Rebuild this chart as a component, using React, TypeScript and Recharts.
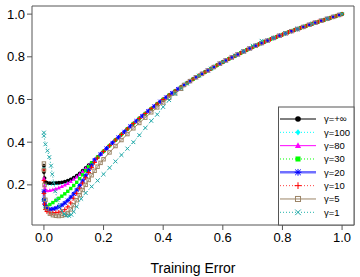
import React from 'react';
import { LineChart, Line, XAxis, YAxis, ReferenceArea } from 'recharts';

type Pt = [number, number];

const X_TICKS = [0, 0.2, 0.4, 0.6, 0.8, 1.0];
const Y_TICKS = [0.2, 0.4, 0.6, 0.8, 1.0];

// shared upper part of the curves (two interleaved samplings)
const TAIL_A: Pt[] = [
    [0.16, 0.303], [0.18, 0.33], [0.2, 0.357], [0.22, 0.384], [0.24, 0.41], [0.26, 0.436],
    [0.28, 0.462], [0.3, 0.487], [0.32, 0.511], [0.34, 0.534], [0.36, 0.557], [0.38, 0.579],
    [0.4, 0.6], [0.42, 0.62], [0.44, 0.639], [0.46, 0.658], [0.48, 0.677], [0.5, 0.695],
    [0.52, 0.712], [0.54, 0.728], [0.56, 0.744], [0.58, 0.76], [0.6, 0.775], [0.62, 0.79],
    [0.64, 0.804], [0.66, 0.818], [0.68, 0.832], [0.7, 0.845], [0.72, 0.858], [0.74, 0.87],
    [0.76, 0.882], [0.78, 0.893], [0.8, 0.904], [0.82, 0.915], [0.84, 0.925], [0.86, 0.935],
    [0.88, 0.945], [0.9, 0.955], [0.92, 0.964], [0.94, 0.973], [0.96, 0.982], [0.98, 0.991],
    [1.0, 1.0],
];
const TAIL_B: Pt[] = [
    [0.17, 0.317], [0.19, 0.344], [0.21, 0.371], [0.23, 0.397], [0.25, 0.423], [0.27, 0.449],
    [0.29, 0.475], [0.31, 0.499], [0.33, 0.523], [0.35, 0.546], [0.37, 0.568], [0.39, 0.59],
    [0.41, 0.61], [0.43, 0.63], [0.45, 0.649], [0.47, 0.668], [0.49, 0.686], [0.51, 0.704],
    [0.53, 0.72], [0.55, 0.736], [0.57, 0.752], [0.59, 0.768], [0.61, 0.783], [0.63, 0.797],
    [0.65, 0.811], [0.67, 0.825], [0.69, 0.839], [0.71, 0.852], [0.73, 0.864], [0.75, 0.876],
    [0.77, 0.888], [0.79, 0.899], [0.81, 0.91], [0.83, 0.92], [0.85, 0.93], [0.87, 0.94],
    [0.89, 0.95], [0.91, 0.96], [0.93, 0.969], [0.95, 0.978], [0.97, 0.987], [0.99, 0.996],
];

const HEAD_INF: Pt[] = [
    [0, 0.29], [0, 0.26], [0.002, 0.232], [0.005, 0.213], [0.01, 0.21], [0.02, 0.208],
    [0.03, 0.208], [0.04, 0.209], [0.05, 0.21], [0.06, 0.212], [0.07, 0.215], [0.08, 0.22],
    [0.09, 0.226], [0.1, 0.234], [0.11, 0.243], [0.12, 0.254], [0.13, 0.267], [0.14, 0.28],
    [0.15, 0.292],
];
const HEAD_100: Pt[] = [
    [0, 0.28], [0.003, 0.22], [0.007, 0.208], [0.015, 0.206], [0.025, 0.205], [0.035, 0.206],
    [0.045, 0.207], [0.055, 0.209], [0.065, 0.211], [0.075, 0.215], [0.085, 0.22], [0.095, 0.227],
    [0.105, 0.236], [0.115, 0.246], [0.125, 0.258], [0.135, 0.271], [0.145, 0.285],
];
const HEAD_80: Pt[] = [
    [0, 0.23], [0.002, 0.195], [0.005, 0.178], [0.01, 0.172], [0.02, 0.174], [0.03, 0.177],
    [0.04, 0.181], [0.05, 0.186], [0.06, 0.192], [0.07, 0.199], [0.08, 0.207], [0.09, 0.216],
    [0.1, 0.226], [0.11, 0.237], [0.12, 0.25], [0.13, 0.263], [0.14, 0.277], [0.15, 0.29],
];
const HEAD_30: Pt[] = [
    [0, 0.13], [0.005, 0.095], [0.01, 0.1], [0.02, 0.108], [0.03, 0.117], [0.04, 0.127],
    [0.05, 0.137], [0.06, 0.147], [0.07, 0.158], [0.08, 0.17], [0.09, 0.183], [0.1, 0.197],
    [0.11, 0.212], [0.12, 0.229], [0.13, 0.247], [0.14, 0.266], [0.15, 0.285],
];
const HEAD_20: Pt[] = [
    [0, 0.17], [0, 0.13], [0.003, 0.11], [0.007, 0.095], [0.012, 0.088], [0.02, 0.085],
    [0.03, 0.087], [0.04, 0.091], [0.05, 0.097], [0.06, 0.105], [0.07, 0.115], [0.08, 0.127],
    [0.09, 0.142], [0.1, 0.158], [0.11, 0.176], [0.12, 0.196], [0.13, 0.218], [0.14, 0.242],
    [0.15, 0.268], [0.16, 0.292],
];
const HEAD_10: Pt[] = [
    [0, 0.27], [0, 0.22], [0, 0.16], [0.002, 0.11], [0.005, 0.085], [0.01, 0.075],
    [0.02, 0.07], [0.03, 0.069], [0.04, 0.07], [0.05, 0.072], [0.06, 0.076], [0.07, 0.084],
    [0.08, 0.097], [0.09, 0.115], [0.1, 0.137], [0.11, 0.16], [0.12, 0.184], [0.13, 0.208],
    [0.14, 0.233], [0.15, 0.258], [0.16, 0.282], [0.17, 0.305], [0.18, 0.326],
];
const HEAD_5: Pt[] = [
    [0, 0.3], [0, 0.27], [0.002, 0.2], [0.005, 0.13], [0.01, 0.09], [0.02, 0.065],
    [0.03, 0.058], [0.04, 0.055], [0.05, 0.054], [0.06, 0.056], [0.07, 0.06], [0.08, 0.068],
    [0.09, 0.085], [0.1, 0.105], [0.11, 0.128], [0.12, 0.152], [0.13, 0.176], [0.14, 0.2],
    [0.15, 0.223], [0.16, 0.245], [0.17, 0.266], [0.18, 0.285], [0.19, 0.303], [0.2, 0.32],
    [0.22, 0.352], [0.24, 0.382], [0.26, 0.41], [0.28, 0.438], [0.3, 0.465], [0.32, 0.49],
    [0.34, 0.515], [0.36, 0.54], [0.38, 0.563], [0.4, 0.586], [0.42, 0.608], [0.44, 0.629],
    [0.46, 0.65],
];
const CURVE_1: Pt[] = [
    [0, 0.445], [0, 0.43], [0.005, 0.39], [0.012, 0.36], [0.018, 0.33], [0.024, 0.29],
    [0.028, 0.25], [0.033, 0.21], [0.038, 0.17], [0.045, 0.13], [0.052, 0.1], [0.06, 0.078],
    [0.068, 0.063], [0.076, 0.056], [0.084, 0.055], [0.092, 0.06], [0.1, 0.075], [0.11, 0.098],
    [0.125, 0.135], [0.14, 0.162], [0.16, 0.192], [0.18, 0.22], [0.2, 0.25], [0.22, 0.28],
    [0.24, 0.31], [0.26, 0.34], [0.28, 0.37], [0.3, 0.4], [0.32, 0.433], [0.34, 0.467],
    [0.36, 0.5], [0.38, 0.53], [0.4, 0.565], [0.42, 0.597], [0.44, 0.627], [0.46, 0.652],
    [0.48, 0.674], [0.52, 0.712], [0.56, 0.745], [0.6, 0.776], [0.64, 0.806], [0.67, 0.826],
    [0.7, 0.852], [0.73, 0.875], [0.77, 0.888], [0.81, 0.91], [0.85, 0.93], [0.9, 0.955],
    [0.95, 0.978], [1.0, 1.0],
];

const join = (head: Pt[], tail: Pt[]) => {
    const last = head[head.length - 1][0];
    return [...head, ...tail.filter((p) => p[0] > last)].map(([x, y]) => ({ x, y }));
};

type Shape = 'circle' | 'diamond' | 'triangle' | 'square' | 'asterisk' | 'plus' | 'osquare' | 'cross';

interface Series {
    name: string;
    color: string;
    lineColor: string;
    width: number;
    dash?: string;
    shape: Shape;
    data: { x: number; y: number }[];
}

// drawing order (cyan goes under black)
const SERIES: Series[] = [
    { name: 'γ=100', color: '#00FFFF', lineColor: '#00FFFF', width: 1, dash: '1 2', shape: 'diamond', data: join(HEAD_100, TAIL_B) },
    { name: 'γ=+∞', color: '#000000', lineColor: '#000000', width: 1, shape: 'circle', data: join(HEAD_INF, TAIL_A) },
    { name: 'γ=80', color: '#FF00FF', lineColor: '#FF00FF', width: 1, shape: 'triangle', data: join(HEAD_80, TAIL_B) },
    { name: 'γ=30', color: '#00FF00', lineColor: '#00FF00', width: 1, dash: '1 2', shape: 'square', data: join(HEAD_30, TAIL_A) },
    { name: 'γ=20', color: '#0000FF', lineColor: '#7070FF', width: 2.5, shape: 'asterisk', data: join(HEAD_20, TAIL_B) },
    { name: 'γ=10', color: '#FF0000', lineColor: '#FF4040', width: 1, dash: '1 2', shape: 'plus', data: join(HEAD_10, TAIL_A) },
    { name: 'γ=5', color: '#9C8466', lineColor: '#9C8466', width: 1, shape: 'osquare', data: join(HEAD_5, TAIL_B) },
    { name: 'γ=1', color: '#20A8A8', lineColor: '#20B2AA', width: 1, dash: '1 2', shape: 'cross', data: join(CURVE_1, []) },
];

const LEGEND_ORDER = ['γ=+∞', 'γ=100', 'γ=80', 'γ=30', 'γ=20', 'γ=10', 'γ=5', 'γ=1'];

const Marker = ({ shape, cx, cy, color, s }: { shape: Shape; cx: number; cy: number; color: string; s: number }) => {
    switch (shape) {
        case 'circle':
            return <circle cx={cx} cy={cy} r={s} fill={color} />;
        case 'diamond':
            return (
                <polygon
                    points={`${cx},${cy - s * 1.1} ${cx + s * 0.9},${cy} ${cx},${cy + s * 1.1} ${cx - s * 0.9},${cy}`}
                    fill={color}
                />
            );
        case 'triangle':
            return (
                <polygon
                    points={`${cx},${cy - s * 1.2} ${cx + s * 1.1},${cy + s * 0.8} ${cx - s * 1.1},${cy + s * 0.8}`}
                    fill={color}
                />
            );
        case 'square':
            return <rect x={cx - s * 0.9} y={cy - s * 0.9} width={s * 1.8} height={s * 1.8} fill={color} />;
        case 'osquare':
            return (
                <rect x={cx - s * 0.9} y={cy - s * 0.9} width={s * 1.8} height={s * 1.8} fill="none" stroke={color} strokeWidth={1} />
            );
        case 'plus':
            return (
                <g stroke={color} strokeWidth={1}>
                    <line x1={cx - s * 1.2} y1={cy} x2={cx + s * 1.2} y2={cy} />
                    <line x1={cx} y1={cy - s * 1.2} x2={cx} y2={cy + s * 1.2} />
                </g>
            );
        case 'cross':
            return (
                <g stroke={color} strokeWidth={1}>
                    <line x1={cx - s} y1={cy - s} x2={cx + s} y2={cy + s} />
                    <line x1={cx - s} y1={cy + s} x2={cx + s} y2={cy - s} />
                </g>
            );
        case 'asterisk':
            return (
                <g stroke={color} strokeWidth={1}>
                    <line x1={cx - s * 1.2} y1={cy} x2={cx + s * 1.2} y2={cy} />
                    <line x1={cx} y1={cy - s * 1.2} x2={cx} y2={cy + s * 1.2} />
                    <line x1={cx - s} y1={cy - s} x2={cx + s} y2={cy + s} />
                    <line x1={cx - s} y1={cy + s} x2={cx + s} y2={cy - s} />
                </g>
            );
    }
    return null;
};

const App = () => {
    const font = '"Liberation Sans", Arial, sans-serif';
    return (
        <div style={{ position: 'absolute', left: 0, top: 0, width: 360, height: 277, background: '#fff', fontFamily: font }}>
            <LineChart width={360} height={277} margin={{ top: 6, right: 6, left: 0, bottom: 0 }}>
                <XAxis
                    type="number"
                    dataKey="x"
                    domain={[-0.04, 1.04]}
                    allowDataOverflow
                    ticks={X_TICKS}
                    tickFormatter={(v: number) => v.toFixed(1)}
                    axisLine={false}
                    tickLine={{ stroke: '#555' }}
                    tickSize={5}
                    tickMargin={3}
                    height={52}
                    tick={{ fill: '#000', fontSize: 13, fontFamily: font }}
                />
                <YAxis
                    type="number"
                    dataKey="y"
                    domain={[0.012, 1.038]}
                    allowDataOverflow
                    ticks={Y_TICKS}
                    tickFormatter={(v: number) => v.toFixed(1)}
                    axisLine={false}
                    tickLine={{ stroke: '#555' }}
                    tickSize={5}
                    tickMargin={2}
                    width={32}
                    tick={{ fill: '#000', fontSize: 13, fontFamily: font }}
                />
                <ReferenceArea x1={-0.04} x2={1.04} y1={0.012} y2={1.038} fill="#fff" fillOpacity={0} stroke="#555" strokeWidth={1} ifOverflow="visible" />
                {SERIES.map((s) => (
                    <Line
                        key={s.name}
                        data={s.data}
                        dataKey="y"
                        type="linear"
                        stroke={s.lineColor}
                        strokeWidth={s.width}
                        strokeDasharray={s.dash}
                        isAnimationActive={false}
                        activeDot={false}
                        dot={(p: any) => (
                            <Marker key={`${s.name}-${p.index}`} shape={s.shape} cx={p.cx} cy={p.cy} color={s.color} s={1.9} />
                        )}
                    />
                ))}
            </LineChart>
            <svg width={360} height={277} style={{ position: 'absolute', left: 0, top: 0, pointerEvents: 'none' }}>
                <text x={193} y={273} textAnchor="middle" fontSize={14} fill="#000" fontFamily={font}>
                    Training Error
                </text>
                <rect x={278.5} y={107} width={75.5} height={118} fill="#fff" stroke="#555" strokeWidth={1} />
                {LEGEND_ORDER.map((name, i) => {
                    const s = SERIES.find((d) => d.name === name)!;
                    const y = 119 + i * 13.33;
                    return (
                        <g key={name}>
                            <line x1={280} y1={y} x2={316} y2={y} stroke={s.lineColor} strokeWidth={s.width} strokeDasharray={s.dash} />
                            <Marker shape={s.shape} cx={298} cy={y} color={s.color} s={2.8} />
                            <text x={324} y={y + 3.3} fontSize={9.5} fill="#000" fontFamily={font}>
                                {name}
                            </text>
                        </g>
                    );
                })}
            </svg>
        </div>
    );
};

export default App;
